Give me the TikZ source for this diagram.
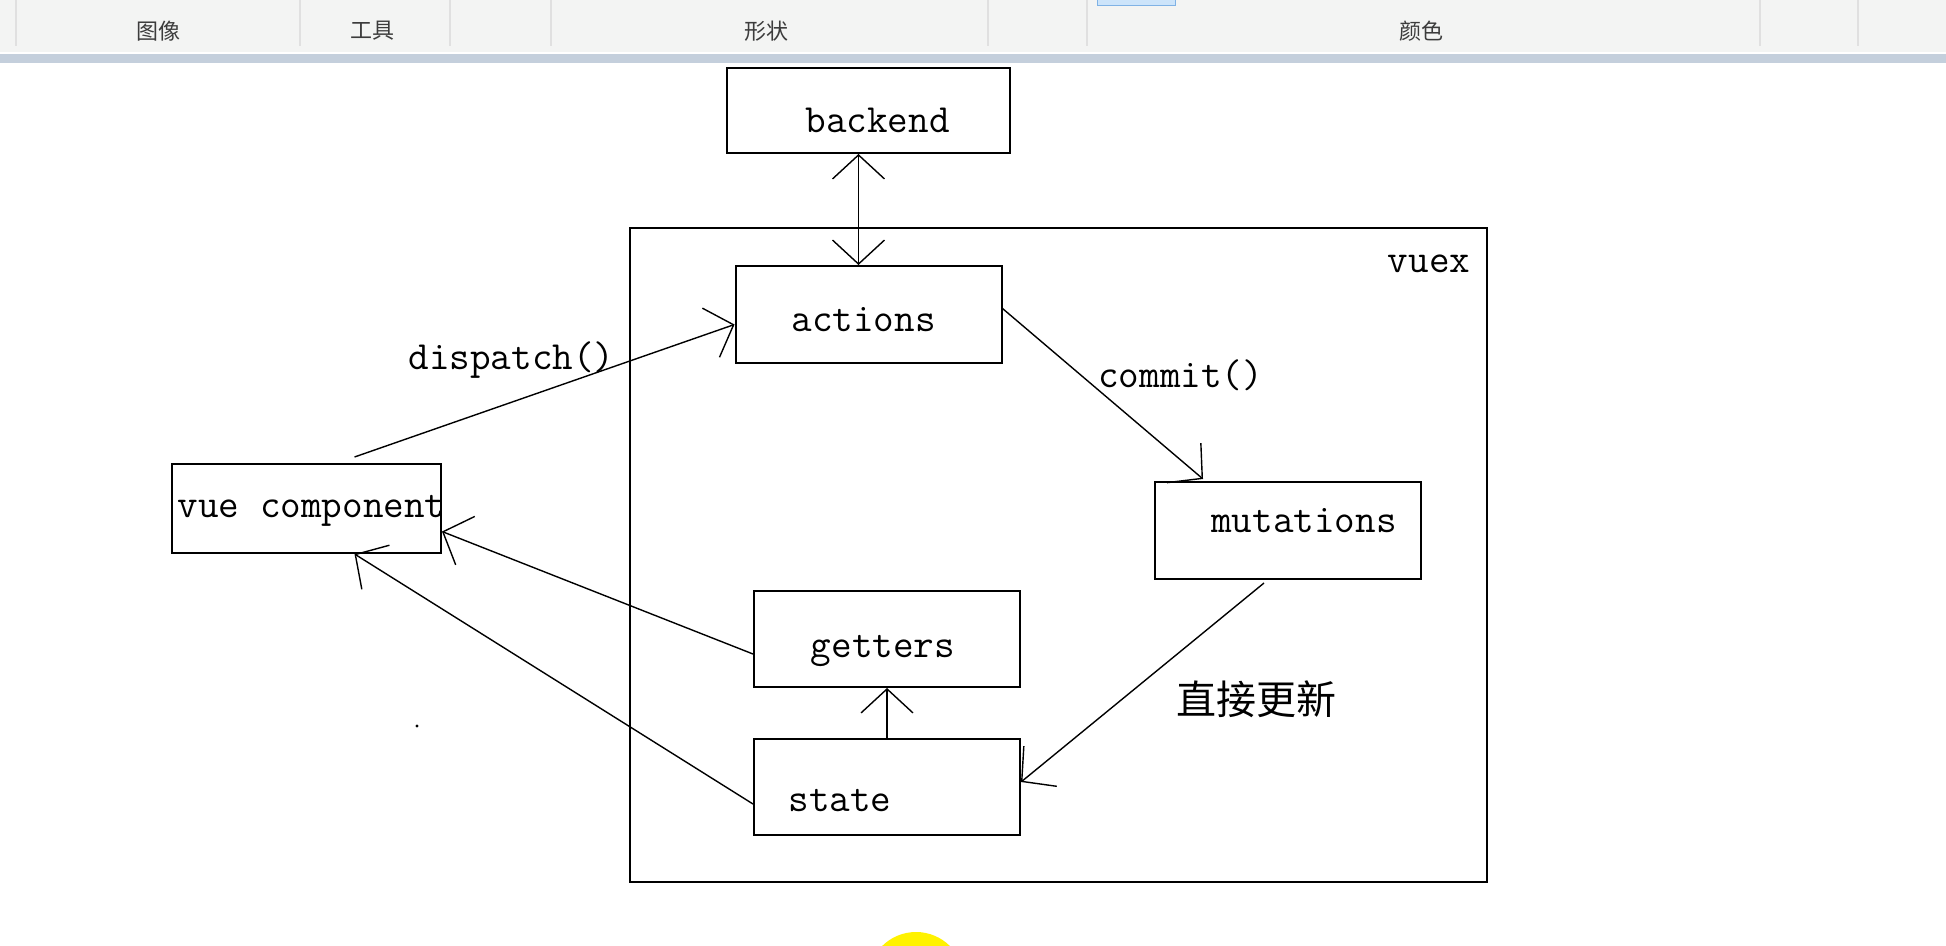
\documentclass[tikz,border=0pt]{standalone}
\usepackage{fontspec}
\newfontfamily\cjk{Noto Sans CJK SC}
\usetikzlibrary{arrows.meta,positioning}
\definecolor{barbg}{RGB}{243,244,243}
\definecolor{barband}{RGB}{196,207,220}
\definecolor{bardiv}{RGB}{224,224,224}
\definecolor{btnfill}{RGB}{204,228,250}
\definecolor{btnedge}{RGB}{127,178,229}
\definecolor{bartext}{RGB}{60,60,60}

\begin{document}
\begin{tikzpicture}[x=0.5pt, y=-0.5pt,
    box/.style={rectangle, draw, line width=1pt, minimum width=133pt, minimum height=48pt, inner sep=0pt},
    arrow/.style={-{Straight Barb[length=12pt,width=26pt]}, line width=0.7pt},
    biarrow/.style={{Straight Barb[length=12pt,width=26pt]}-{Straight Barb[length=12pt,width=26pt]}, line width=0.7pt},
    lbl/.style={font=\ttfamily\fontsize{20}{23}\selectfont, inner sep=0pt},
    tab/.style={font=\cjk\fontsize{11}{13}\selectfont, text=bartext}
]
\fill[white] (0,0) rectangle (1946,946);
\useasboundingbox (0,0) rectangle (1946,946);

% toolbar
\fill[barbg] (0,0) rectangle (1946,52);
\fill[barband] (0,54) rectangle (1946,63);
\foreach \x in {16,300,450,551,988,1087,1760,1858}
    \draw[bardiv, line width=1pt] (\x,0) -- (\x,46);
\draw[btnedge, fill=btnfill] (1097,-4) rectangle (1175,5);
\node[tab] (tabimage) at (158,31) {图像};
\node[tab] (tabtools) at (372,31) {工具};
\node[tab] (tabshape) at (766,31) {形状};
\node[tab] (tabcolour) at (1421,31) {颜色};

% boxes
\node[box, minimum width=428.5pt, minimum height=327pt] (vuex) at (1058.5,555) {};
\node[lbl] (vuexname) at ([xshift=-29.5pt, yshift=-18.3pt]vuex.north east) {vuex};
\node[box, minimum height=48.5pt, label={[lbl, xshift=-2.5pt, yshift=-2.5pt]center:actions}] (actions) at (868.5,314.5) {};
\node[box, minimum width=141.5pt, minimum height=42.5pt, above=55.5pt of actions, label={[lbl, xshift=4.5pt, yshift=-5pt]center:backend}] (backend) {};
\node[box, minimum height=48.5pt, label={[lbl, xshift=8pt, yshift=5pt]center:mutations}] (mutations) at (1288,530.5) {};
\node[box, label={[lbl, xshift=-23.5pt, yshift=-7pt]center:state}] (state) at (887,787) {};
\node[box, above=25pt of state, label={[lbl, xshift=-2pt, yshift=-6pt]center:getters}] (getters) {};
\node[box, minimum width=134.5pt, minimum height=44.5pt, label={[lbl, xshift=2.5pt, yshift=-1.2pt]center:vue component}] (vue) at (306.5,508.5) {};

% connectors
\draw[biarrow] ([xshift=-5pt]backend.south) -- ([xshift=-5pt]actions.north);
\draw[arrow] ([xshift=24pt, yshift=3pt]vue.north) -- node[lbl, pos=0.4, xshift=2.5pt, yshift=22pt] {dispatch()} ([yshift=-5pt]actions.west);
\draw[arrow] ([yshift=3pt]actions.east) -- node[lbl, pos=0.39, xshift=50pt] {commit()} ([xshift=-42.5pt, yshift=1pt]mutations.north);
\draw[arrow] ([xshift=-12pt, yshift=-1.5pt]mutations.south) -- node[pos=0.596, xshift=68.7pt, yshift=1.2pt, font=\cjk\fontsize{20}{23}\selectfont, inner sep=0pt] {直接更新} ([yshift=2.5pt]state.east);
\draw[arrow] (state) -- (getters);
\draw[arrow] ([yshift=-7.5pt]getters.west) -- ([yshift=-11.5pt]vue.east);
\draw[arrow] ([yshift=-8.5pt]state.west) -- ([xshift=24pt]vue.south);

% stray marks
\fill (417,726) circle[radius=0.8pt];
\begin{scope}
\clip (0,0) rectangle (1946,946);
\fill[yellow] (916,980) circle[radius=24pt];
\end{scope}
\end{tikzpicture}
\end{document}
